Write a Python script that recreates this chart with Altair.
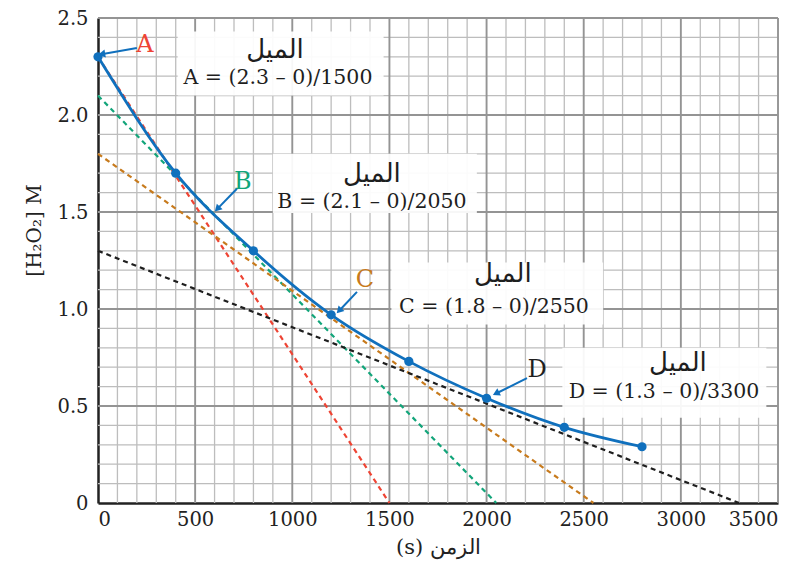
import math
import altair as alt
import pandas as pd

# ---- data ----
time_s = [0, 400, 800, 1200, 1600, 2000, 2400, 2800]
conc_M = [2.30, 1.70, 1.30, 0.97, 0.73, 0.54, 0.39, 0.29]

tangent_names = ["A", "B", "C", "D"]
tangent_y0 = [2.3, 2.1, 1.8, 1.3]
tangent_x0 = [1500, 2050, 2550, 3300]
tangent_colors = ["#ee4434", "#12a57a", "#c77a1c", "#1e1e1e"]

slope_word = "الميل"
slope_texts = ["A = (2.3 – 0)/1500", "B = (2.1 – 0)/2050",
               "C = (1.8 – 0)/2550", "D = (1.3 – 0)/3300"]
box_x = [410, 900, 1510, 2390]
box_x2 = [1470, 1950, 2600, 3440]
box_y = [2.10, 1.495, 0.92, 0.44]
box_y2 = [2.43, 1.80, 1.24, 0.80]
word_x = [911, 1410, 2084, 2985]
word_y = [2.335, 1.696, 1.18, 0.72]
formula_x = [926, 1410, 2038, 2913]
formula_y = [2.19, 1.55, 1.01, 0.572]

letter_x = [242, 746, 1374, 2260]
letter_y = [2.36, 1.655, 1.15, 0.686]
arrow_x = [200, 715, 1333, 2208]
arrow_y = [2.345, 1.62, 1.088, 0.644]
arrow_x2 = [25, 618, 1245, 2054]
arrow_y2 = [2.315, 1.52, 0.995, 0.567]

x_ticks = [0, 500, 1000, 1500, 2000, 2500, 3000, 3500]
y_ticks = [0, 0.5, 1.0, 1.5, 2.0, 2.5]
x_minor = [v for v in range(100, 3501, 100) if v % 500 != 0]
x_major = [500, 1000, 1500, 2000, 2500, 3000, 3500]
y_minor = [round(v * 0.1, 1) for v in range(1, 26) if v % 5 != 0]
y_major = [0.5, 1.0, 1.5, 2.0, 2.5]

# ---- layout ----
W, H = 680, 485
XMAX, YMAX = 3500, 2.5
SERIF = "DejaVu Serif"
BLUE = "#1070bd"

xs = alt.Scale(domain=[0, XMAX], nice=False, zero=False)
ys = alt.Scale(domain=[0, YMAX], nice=False, zero=False)
x_axis = alt.Axis(values=x_ticks, format="d", grid=False, ticks=False,
                  domainColor="#222222", domainWidth=2.5, labelFont=SERIF,
                  labelFontSize=19.5, labelColor="#222222", labelPadding=7,
                  title="(s) الزمن", titleFont=SERIF, titleFontSize=21,
                  titleFontWeight="normal", titleColor="#222222", titlePadding=8)
y_axis = alt.Axis(values=y_ticks, grid=False, ticks=False,
                  labelExpr="datum.value == 0 ? '0' : format(datum.value, '.1f')",
                  domainColor="#222222", domainWidth=2.5, labelFont=SERIF,
                  labelFontSize=19.5, labelColor="#222222", labelPadding=10,
                  title="[H₂O₂] M", titleFont=SERIF, titleFontSize=20,
                  titleFontWeight="normal", titleColor="#222222", titlePadding=12,
                  titleY=212)


def X(f):
    return alt.X(f, type="quantitative", scale=xs, axis=x_axis)


def Y(f):
    return alt.Y(f, type="quantitative", scale=ys, axis=y_axis)


def X2(f):
    return alt.X2(f)


def Y2(f):
    return alt.Y2(f)


# grid
vmin = alt.Chart(pd.DataFrame({"x": x_minor})).mark_rule(color="#bdbdbd", strokeWidth=1.3).encode(x=X("x"))
vmaj = alt.Chart(pd.DataFrame({"x": x_major})).mark_rule(color="#949494", strokeWidth=1.9).encode(x=X("x"))
hmin = alt.Chart(pd.DataFrame({"y": y_minor})).mark_rule(color="#bdbdbd", strokeWidth=1.3).encode(y=Y("y"))
hmaj = alt.Chart(pd.DataFrame({"y": y_major})).mark_rule(color="#949494", strokeWidth=1.9).encode(y=Y("y"))

# tangent lines
tan_df = pd.DataFrame({"name": tangent_names, "x0": [0] * 4, "y0": tangent_y0,
                       "x1": tangent_x0, "y1": [0] * 4, "c": tangent_colors})
tangents = alt.Chart(tan_df).mark_rule(strokeDash=[5, 4], strokeWidth=2.2).encode(
    x=X("x0"), y=Y("y0"), x2=X2("x1"), y2=Y2("y1"),
    color=alt.Color("c:N", scale=None))

# curve
cur_df = pd.DataFrame({"t": time_s, "c": conc_M})
curve = alt.Chart(cur_df).mark_line(color=BLUE, strokeWidth=2.8, interpolate="monotone").encode(
    x=X("t"), y=Y("c"))
pts = alt.Chart(cur_df).mark_point(color=BLUE, filled=True, size=85, opacity=1).encode(
    x=X("t"), y=Y("c"))

# boxes
box_df = pd.DataFrame({"x": box_x, "x2": box_x2, "y": box_y, "y2": box_y2,
                       "wx": word_x, "wy": word_y, "fx": formula_x, "fy": formula_y,
                       "word": [slope_word] * 4, "f": slope_texts})
boxes = alt.Chart(box_df).mark_rect(color="white", opacity=0.93).encode(
    x=X("x"), x2=X2("x2"), y=Y("y"), y2=Y2("y2"))
words = alt.Chart(box_df).mark_text(font="DejaVu Sans", fontSize=26, color="#1e1e1e",
                                    baseline="middle").encode(
    x=X("wx"), y=Y("wy"), text="word:N")
forms = alt.Chart(box_df).mark_text(font=SERIF, fontSize=20.5, color="#1e1e1e",
                                    baseline="middle").encode(
    x=X("fx"), y=Y("fy"), text="f:N")

# letters and arrows
sx, sy = W / XMAX, H / YMAX
angles = []
for a, b, c, d in zip(arrow_x, arrow_y, arrow_x2, arrow_y2):
    dx = (c - a) * sx
    dy = -(d - b) * sy
    angles.append(math.degrees(math.atan2(dx, -dy)) % 360)
ar_df = pd.DataFrame({"lx": letter_x, "ly": letter_y, "name": tangent_names,
                      "c": tangent_colors, "x": arrow_x, "y": arrow_y,
                      "x2": arrow_x2, "y2": arrow_y2, "ang": angles})
letters = alt.Chart(ar_df).mark_text(font=SERIF, fontSize=24, baseline="middle").encode(
    x=X("lx"), y=Y("ly"), text="name:N", color=alt.Color("c:N", scale=None))
shafts = alt.Chart(ar_df).mark_rule(color=BLUE, strokeWidth=2).encode(
    x=X("x"), y=Y("y"), x2=X2("x2"), y2=Y2("y2"))
heads = alt.Chart(ar_df).mark_point(shape="triangle", filled=True, color=BLUE, size=65,
                                    opacity=1).encode(
    x=X("x2"), y=Y("y2"), angle=alt.Angle("ang:Q", scale=None))

chart = alt.layer(vmin, hmin, vmaj, hmaj, tangents, curve, pts, boxes, words, forms,
                  letters, shafts, heads).properties(
    width=W, height=H,
    autosize=alt.AutoSizeParams(type="none"),
    padding={"left": 90, "top": 10, "right": 20, "bottom": 70},
).configure_view(stroke=None).configure(background="white")

chart.save("out.html", embed_options={"renderer": "svg", "actions": False})
